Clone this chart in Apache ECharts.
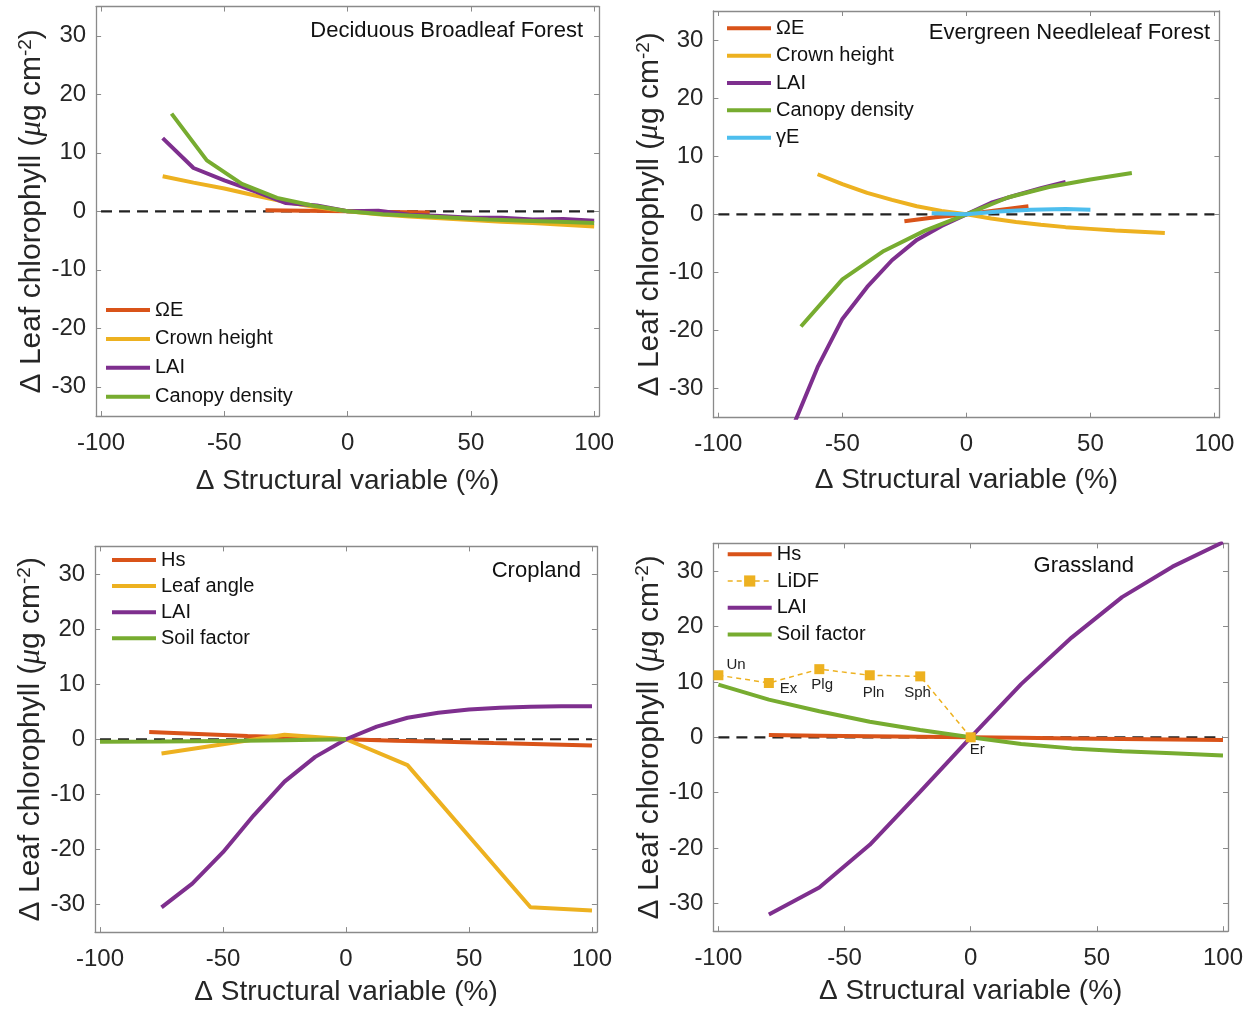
<!DOCTYPE html>
<html>
<head>
<meta charset="utf-8">
<title>Leaf chlorophyll vs structural variables</title>
<script src="https://cdn.jsdelivr.net/npm/echarts@6/dist/echarts.min.js"></script>
<style>
  html, body { margin: 0; padding: 0; background: #fff; }
  #chart { width: 1246px; height: 1010px; }
</style>
</head>
<body>
<div id="chart"></div>
<script>
// shared axis ticks
const xTicks = [-100, -50, 0, 50, 100];
const yTicks = [-30, -20, -10, 0, 10, 20, 30];
const zeroX = [-100, 100];
const zeroY = [0, 0];

// Deciduous Broadleaf Forest
const dbfOmegaX = [-33.3, -16.7, 0, 16.7, 33.3];
const dbfOmegaY = [0.2, 0.1, 0, -0.1, -0.2];
const dbfCrownX = [-75, -62.5, -50, -37.5, -25, -12.5, 0, 12.5, 25, 37.5, 50, 62.5, 75, 87.5, 100];
const dbfCrownY = [6.0, 4.9, 3.9, 2.7, 1.6, 0.7, 0, -0.5, -0.9, -1.2, -1.5, -1.8, -2.0, -2.3, -2.6];
const dbfLaiX = [-75, -62.5, -50, -37.5, -25, -12.5, 0, 12.5, 25, 37.5, 50, 62.5, 75, 87.5, 100];
const dbfLaiY = [12.5, 7.4, 5.3, 3.4, 1.4, 1.0, 0, 0.1, -0.6, -0.8, -1.1, -1.1, -1.4, -1.3, -1.6];
const dbfDensX = [-71.4, -57.1, -42.9, -28.6, -14.3, 0, 14.3, 28.6, 42.9, 57.1, 71.4, 85.7, 100];
const dbfDensY = [16.7, 8.7, 4.7, 2.3, 1.0, 0, -0.5, -0.8, -1.1, -1.4, -1.6, -1.8, -2.0];

// Evergreen Needleleaf Forest
const enfOmegaX = [-25, -12.5, 0, 12.5, 25];
const enfOmegaY = [-1.2, -0.5, 0, 0.7, 1.4];
const enfCrownX = [-60, -50, -40, -30, -20, -10, 0, 10, 20, 30, 40, 50, 60, 70, 80];
const enfCrownY = [6.9, 5.2, 3.7, 2.5, 1.4, 0.6, 0, -0.7, -1.3, -1.8, -2.2, -2.5, -2.8, -3.0, -3.2];
const enfLaiX = [-70, -60, -50, -40, -30, -20, -10, 0, 10, 20, 30, 40];
const enfLaiY = [-36.6, -26.3, -18.0, -12.5, -7.9, -4.4, -2.0, 0, 2.0, 3.3, 4.5, 5.6];
const enfDensX = [-66.7, -50, -33.3, -16.7, 0, 16.7, 33.3, 50, 66.7];
const enfDensY = [-19.3, -11.2, -6.3, -2.8, 0, 2.9, 4.7, 6.0, 7.1];
const enfGammaX = [-14, 0, 13, 26, 40, 50];
const enfGammaY = [0.2, 0, 0.5, 0.8, 0.9, 0.8];

// Cropland
const cropHsX = [-80, -60, -40, -20, 0, 20, 40, 60, 80, 100];
const cropHsY = [1.3, 0.95, 0.6, 0.3, 0, -0.25, -0.45, -0.7, -0.9, -1.15];
const cropLeafX = [-75, -50, -25, 0, 25, 50, 75, 100];
const cropLeafY = [-2.6, -0.9, 0.8, 0, -4.7, -17.6, -30.5, -31.1];
const cropLaiX = [-75, -62.5, -50, -37.5, -25, -12.5, 0, 12.5, 25, 37.5, 50, 62.5, 75, 87.5, 100];
const cropLaiY = [-30.5, -26.2, -20.5, -13.8, -7.7, -3.2, 0, 2.3, 3.9, 4.8, 5.4, 5.7, 5.9, 6.0, 6.0];
const cropSoilX = [-100, -75, -50, -25, 0];
const cropSoilY = [-0.45, -0.4, -0.3, -0.2, 0];

// Grassland
const grassHsX = [-80, -60, -40, -20, 0, 20, 40, 60, 80, 100];
const grassHsY = [0.4, 0.3, 0.2, 0.1, 0, -0.1, -0.2, -0.3, -0.4, -0.5];
const grassLidfTypes = ['Un', 'Ex', 'Plg', 'Pln', 'Sph', 'Er'];
const grassLidfX = [-100, -80, -60, -40, -20, 0];
const grassLidfY = [11.2, 9.8, 12.3, 11.2, 11.0, 0];
const grassLaiX = [-80, -60, -40, -20, 0, 20, 40, 60, 80, 100];
const grassLaiY = [-32.0, -27.1, -19.4, -9.8, 0, 9.6, 18.0, 25.3, 30.8, 35.2];
const grassSoilX = [-100, -80, -60, -40, -20, 0, 20, 40, 60, 80, 100];
const grassSoilY = [9.5, 6.8, 4.7, 2.8, 1.3, 0, -1.2, -2.0, -2.5, -2.9, -3.3];

const RED = '#D95319', YEL = '#EDB120', PUR = '#7E2F8E', GRN = '#77AC30', CYA = '#4DBEEE';
const FONT = "'Liberation Sans', Arial, Helvetica, sans-serif";
const TXT = '#262626';
const AXIS = '#8a8a8a';

// label placement of the LiDF type names, relative to the marker box
const lidfLabelPos = [[13, -5], [16, 11], [-3, 21], [-2, 23], [-11, 21], [4, 18]];

function pairs(xs, ys) {
  return xs.map((x, i) => [x, ys[i]]);
}

const panels = [
  {
    grid: { left: 96.1, top: 6.55, width: 503, height: 409.5 },
    title: 'Deciduous Broadleaf Forest', titlePos: { right: 663, top: 20 },
    legend: { left: 104, top: 300, gap: 8.9 },
    nameGapX: 51, nameGapY: 46,
    lines: [
      { name: 'ΩE', x: dbfOmegaX, y: dbfOmegaY, color: RED },
      { name: 'Crown height', x: dbfCrownX, y: dbfCrownY, color: YEL },
      { name: 'LAI', x: dbfLaiX, y: dbfLaiY, color: PUR },
      { name: 'Canopy density', x: dbfDensX, y: dbfDensY, color: GRN },
    ],
  },
  {
    grid: { left: 713.4, top: 11, width: 506, height: 406.7 },
    title: 'Evergreen Needleleaf Forest', titlePos: { right: 36, top: 22 },
    legend: { left: 725, top: 18.3, gap: 7.35 },
    nameGapX: 49, nameGapY: 46,
    lines: [
      { name: 'ΩE', x: enfOmegaX, y: enfOmegaY, color: RED },
      { name: 'Crown height', x: enfCrownX, y: enfCrownY, color: YEL },
      { name: 'LAI', x: enfLaiX, y: enfLaiY, color: PUR },
      { name: 'Canopy density', x: enfDensX, y: enfDensY, color: GRN },
      { name: 'γE', x: enfGammaX, y: enfGammaY, color: CYA },
    ],
  },
  {
    grid: { left: 95.1, top: 546.4, width: 501.8, height: 385.7 },
    title: 'Cropland', titlePos: { right: 665, top: 560 },
    legend: { left: 110, top: 550, gap: 6.1 },
    nameGapX: 46, nameGapY: 46,
    lines: [
      { name: 'Hs', x: cropHsX, y: cropHsY, color: RED },
      { name: 'Leaf angle', x: cropLeafX, y: cropLeafY, color: YEL },
      { name: 'LAI', x: cropLaiX, y: cropLaiY, color: PUR },
      { name: 'Soil factor', x: cropSoilX, y: cropSoilY, color: GRN },
    ],
  },
  {
    grid: { left: 713.35, top: 543.4, width: 515.3, height: 387.8 },
    title: 'Grassland', titlePos: { left: 1033.6, top: 555 },
    legend: { left: 725.7, top: 544.3, gap: 6.7 },
    nameGapX: 46, nameGapY: 47,
    lines: [
      { name: 'Hs', x: grassHsX, y: grassHsY, color: RED },
      { name: 'LiDF', x: grassLidfX, y: grassLidfY, color: YEL, lidf: true },
      { name: 'LAI', x: grassLaiX, y: grassLaiY, color: PUR },
      { name: 'Soil factor', x: grassSoilX, y: grassSoilY, color: GRN },
    ],
  },
];

const option = {
  animation: false,
  backgroundColor: '#fff',
  grid: [], xAxis: [], yAxis: [], title: [], legend: [], series: [],
};

panels.forEach((p, i) => {
  option.grid.push(Object.assign({ containLabel: false }, p.grid));

  const tickStyle = { inside: true, length: 5, lineStyle: { color: AXIS, width: 1 } };
  const lineStyle = { onZero: false, lineStyle: { color: AXIS, width: 1.3 } };

  option.xAxis.push({
    gridIndex: i, type: 'value', min: -102, max: 102, position: 'bottom',
    axisLine: lineStyle,
    axisTick: Object.assign({ customValues: xTicks }, tickStyle),
    axisLabel: { customValues: xTicks, margin: 15, fontSize: 24, color: TXT, fontFamily: FONT },
    splitLine: { show: false },
    name: 'Δ Structural variable (%)', nameLocation: 'middle', nameGap: p.nameGapX,
    nameTextStyle: { fontSize: 28, color: TXT, fontFamily: FONT },
  });
  option.xAxis.push({
    gridIndex: i, type: 'value', min: -102, max: 102, position: 'top',
    axisLine: lineStyle,
    axisTick: Object.assign({ customValues: xTicks }, tickStyle),
    axisLabel: { show: false },
    splitLine: { show: false },
  });
  option.yAxis.push({
    gridIndex: i, type: 'value', min: -35, max: 35, position: 'left',
    axisLine: lineStyle,
    axisTick: Object.assign({ customValues: yTicks }, tickStyle),
    axisLabel: { customValues: yTicks, margin: 10, fontSize: 24, color: TXT, fontFamily: FONT },
    splitLine: { show: false },
    name: '{t|Δ Leaf chlorophyll (}{m|μ}{t|g cm}{s|-2}{t|)}',
    nameLocation: 'middle', nameGap: p.nameGapY,
    nameTextStyle: {
      rich: {
        t: { fontSize: 30, color: TXT, fontFamily: FONT },
        m: { fontSize: 31, color: TXT, fontStyle: 'italic', fontFamily: "'Liberation Serif', serif" },
        s: { fontSize: 19, color: TXT, fontFamily: FONT, verticalAlign: 'top' },
      },
    },
  });
  option.yAxis.push({
    gridIndex: i, type: 'value', min: -35, max: 35, position: 'right',
    axisLine: lineStyle,
    axisTick: Object.assign({ customValues: yTicks }, tickStyle),
    axisLabel: { show: false },
    splitLine: { show: false },
  });

  option.title.push(Object.assign({
    text: p.title, padding: 0,
    textStyle: { fontSize: 22, fontWeight: 'normal', color: '#111', fontFamily: FONT },
  }, p.titlePos));

  // line-only legend icons: hide the marker except for the LiDF entry
  option.legend.push({
    orient: 'vertical', left: p.legend.left, top: p.legend.top, itemGap: p.legend.gap,
    itemWidth: 44, itemHeight: 14, padding: 0, selectedMode: false,
    data: p.lines.map(s => (s.lidf ? { name: s.name, itemStyle: { opacity: 1 } } : s.name)),
    itemStyle: { opacity: 0 },
    lineStyle: { width: 'inherit' },
    textStyle: { fontSize: 20, color: '#111', fontFamily: FONT },
  });

  // zero reference line
  option.series.push({
    type: 'line', xAxisIndex: 2 * i, yAxisIndex: 2 * i, silent: true,
    data: pairs(zeroX, zeroY), symbol: 'none',
    lineStyle: { color: '#222', width: 2.2, type: [11, 7] },
  });

  p.lines.forEach(s => {
    if (s.lidf) {
      option.series.push({
        name: s.name, type: 'line', xAxisIndex: 2 * i, yAxisIndex: 2 * i,
        data: s.x.map((x, k) => ({ value: [x, s.y[k]], label: { position: lidfLabelPos[k] } })),
        symbol: 'rect', symbolSize: 10,
        itemStyle: { color: s.color },
        lineStyle: { color: s.color, width: 1.5, type: [5, 4] },
        label: {
          show: true, formatter: d => grassLidfTypes[d.dataIndex],
          fontSize: 15, color: '#222', fontFamily: FONT, align: 'left', verticalAlign: 'middle',
        },
      });
    } else {
      option.series.push({
        name: s.name, type: 'line', xAxisIndex: 2 * i, yAxisIndex: 2 * i,
        data: pairs(s.x, s.y), symbol: 'none',
        itemStyle: { color: s.color },
        lineStyle: { color: s.color, width: 4 },
      });
    }
  });
});

const chart = echarts.init(document.getElementById('chart'));
chart.setOption(option);
window.addEventListener('resize', () => chart.resize());
</script>
</body>
</html>
